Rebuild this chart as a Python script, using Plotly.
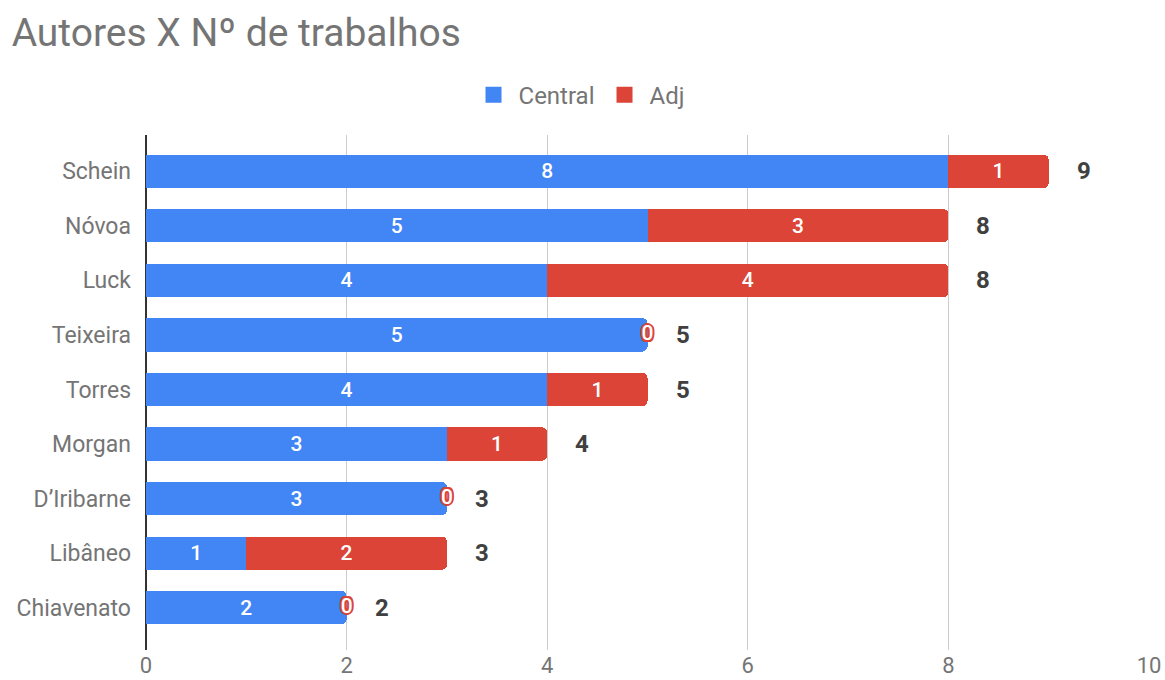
import plotly.graph_objects as go

autores = ["Schein", "Nóvoa", "Luck", "Teixeira", "Torres", "Morgan", "D’Iribarne", "Libâneo", "Chiavenato"]
central = [8, 5, 4, 5, 4, 3, 3, 1, 2]
adj = [1, 3, 4, 0, 1, 1, 0, 2, 0]
totais = [c + a for c, a in zip(central, adj)]
x_ticks = [0, 2, 4, 6, 8, 10]

BLUE = "#4285f4"
RED = "#db4437"
FONT = "Roboto"

fig = go.Figure()
fig.add_trace(go.Bar(
    y=autores, x=central, name="Central", orientation="h",
    marker=dict(color=BLUE, line=dict(width=0)),
    text=[str(v) for v in central], textposition="inside", insidetextanchor="middle",
    textfont=dict(color="white", size=21, family=FONT, weight=500), textangle=0,
    width=0.61, showlegend=False,
))
fig.add_trace(go.Bar(
    y=autores, x=adj, name="Adj", orientation="h",
    marker=dict(color=RED, line=dict(width=0)),
    text=[str(v) if v else "" for v in adj], textposition="inside", insidetextanchor="middle",
    textfont=dict(color="white", size=21, family=FONT, weight=500), textangle=0,
    width=0.61, showlegend=False,
))

# zero labels for Adj
zy = [a for a, v in zip(autores, adj) if v == 0]
zx = [c for c, v in zip(central, adj) if v == 0]
sh = ", ".join("%s %s 0.5px %s" % (dx, dy, RED) for dx, dy in
               [("2px", "0"), ("-2px", "0"), ("0", "2px"), ("0", "-2px"),
                ("1.5px", "1.5px"), ("-1.5px", "-1.5px"), ("1.5px", "-1.5px"), ("-1.5px", "1.5px")])
fig.add_trace(go.Scatter(
    y=zy, x=zx, mode="text", text=["0"] * len(zx), textposition="middle center",
    textfont=dict(color="white", size=21, family=FONT, weight=500, shadow=sh),
    showlegend=False, hoverinfo="skip", cliponaxis=False,
))

# legend entries
for nm, col in [("Central", BLUE), ("Adj", RED)]:
    fig.add_trace(go.Scatter(
        x=[None], y=[None], mode="markers", name=nm,
        marker=dict(symbol="square", size=22, color=col, line=dict(width=0)),
    ))

for a, t in zip(autores, totais):
    fig.add_annotation(x=t, y=a, text="<b>%d</b>" % t, showarrow=False,
                       xanchor="center", xshift=35,
                       font=dict(size=24, color="#404040", family=FONT))

fig.update_layout(
    width=1165, height=680,
    barmode="stack", barcornerradius=5,
    margin=dict(l=146, r=16, t=135, b=30),
    plot_bgcolor="white", paper_bgcolor="white",
    font=dict(family=FONT, color="#757575"),
    title=dict(text="Autores X Nº de trabalhos", x=0.01, xanchor="left", y=0.953, yanchor="middle",
               font=dict(size=39, color="#757575", family=FONT)),
    legend=dict(orientation="h", xref="container", x=0.497, xanchor="center",
                yref="container", y=0.86, yanchor="middle", traceorder="normal",
                itemsizing="trace",
                font=dict(size=24, color="#757575", family=FONT), itemwidth=40),
    xaxis=dict(range=[0, 10], tickvals=x_ticks, showgrid=True, gridcolor="#cccccc", gridwidth=1,
               zeroline=True, zerolinecolor="#333333", zerolinewidth=1.5, automargin=False,
               tickfont=dict(size=22, color="#757575"), ticks="", showline=False),
    yaxis=dict(range=[8.775, -0.665], showgrid=False, zeroline=False, ticks="", ticklabelstandoff=14,
               automargin=False, tickfont=dict(size=23, color="#757575")),
)

fig.write_html("out.html")
